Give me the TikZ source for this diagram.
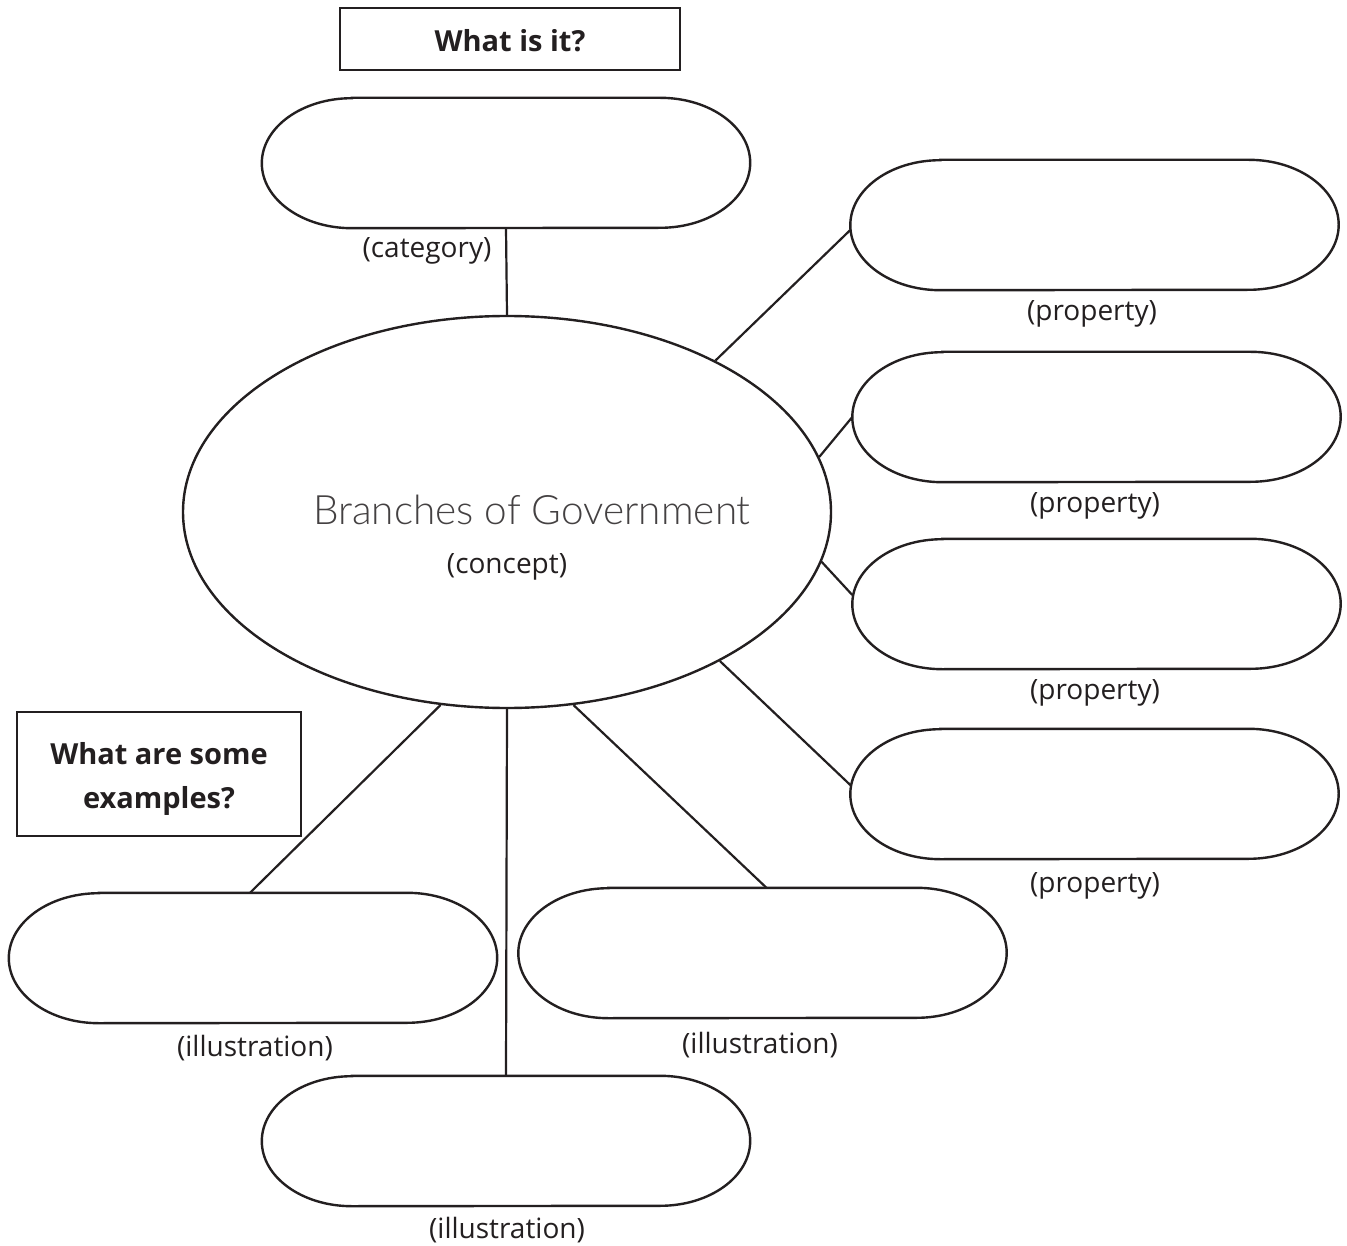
\documentclass[tikz,border=0pt]{standalone}
\usepackage{fontspec}
\setmainfont{Open Sans}
\newfontfamily\handfont{Lato Light}
\usetikzlibrary{shapes.geometric}
\definecolor{ink}{HTML}{231F20}
\tikzset{
  x=1pt, y=1pt,
  outline/.style={draw=ink, line width=2.4pt},
  conn/.style={draw=ink, line width=2.2pt},
  pillnode/.style={minimum width=488pt, minimum height=130pt, inner sep=0pt, draw=none},
  qbox/.style={outline, inner sep=0pt, font=\fontsize{29}{44}\selectfont\bfseries, text=ink, align=center},
  lbl/.style={font=\fontsize{28}{32}\selectfont, text=ink, inner sep=0pt}
}
\newcommand{\drawpill}[1]{%
  \draw[outline] ([xshift=90pt]#1.north west) -- ([xshift=-90pt]#1.north east)
    arc[start angle=90, end angle=-90, x radius=90pt, y radius=65pt]
    -- ([xshift=90pt]#1.south west)
    arc[start angle=270, end angle=90, x radius=90pt, y radius=65pt] -- cycle;}
\begin{document}
\begin{tikzpicture}
\useasboundingbox[fill=white] (0,0) rectangle (1347,-1246);
% question boxes
\node[outline, minimum width=340pt, minimum height=62pt, inner sep=0pt] (q1) at (510,-39) {};
\node[qbox, draw=none] (q1t) at (510,-41) {What is it?};
\node[outline, minimum width=284pt, minimum height=124pt, inner sep=0pt] (q2) at (159,-774) {};
\node[qbox, draw=none] (q2t) at (159,-779) {What are some\\examples?};
% concept
\node[ellipse, outline, minimum width=648pt, minimum height=392pt, inner sep=0pt] (ell) at (507,-512) {};
\node[font=\fontsize{40.5}{48}\selectfont\handfont, text=ink!85, inner sep=0pt] (title) at (532,-510) {Branches of Government};
\node[lbl] (conlbl) at (507,-567) {(concept)};
% category
\node[pillnode] (cat) at (506,-163) {};
\drawpill{cat}
\node[lbl] (catlbl) at (427,-251) {(category)};
% properties
\node[pillnode] (p1) at (1094.5,-225) {};
\drawpill{p1}
\node[lbl] (p1lbl) at (1092,-314) {(property)};
\node[pillnode] (p2) at (1096.5,-417) {};
\drawpill{p2}
\node[lbl] (p2lbl) at (1095,-506) {(property)};
\node[pillnode] (p3) at (1096.5,-604) {};
\drawpill{p3}
\node[lbl] (p3lbl) at (1095,-693) {(property)};
\node[pillnode] (p4) at (1094.5,-794) {};
\drawpill{p4}
\node[lbl] (p4lbl) at (1095,-886) {(property)};
% illustrations
\node[pillnode] (i1) at (253,-958) {};
\drawpill{i1}
\node[lbl] (i1lbl) at (255,-1048) {(illustration)};
\node[pillnode] (i2) at (762.5,-953) {};
\drawpill{i2}
\node[lbl] (i2lbl) at (760,-1045) {(illustration)};
\node[pillnode] (i3) at (506,-1141) {};
\drawpill{i3}
\node[lbl] (i3lbl) at (507,-1230) {(illustration)};
% connectors
\draw[conn] (cat.south) -- (ell.north);
\draw[conn] (ell.36.8) -- ([yshift=-5pt]p1.west);
\draw[conn] (ell.10.9) -- (p2.west);
\draw[conn] (ell.-9.2) -- ([yshift=9pt]p3.west);
\draw[conn] (ell.-35.7) -- ([yshift=9pt]p4.west);
\draw[conn] (ell.-109.2) -- ([xshift=-3pt]i1.north);
\draw[conn] (ell.south) -- (i3.north);
\draw[conn] (ell.-71.1) -- ([xshift=4pt]i2.north);
\end{tikzpicture}
\end{document}
